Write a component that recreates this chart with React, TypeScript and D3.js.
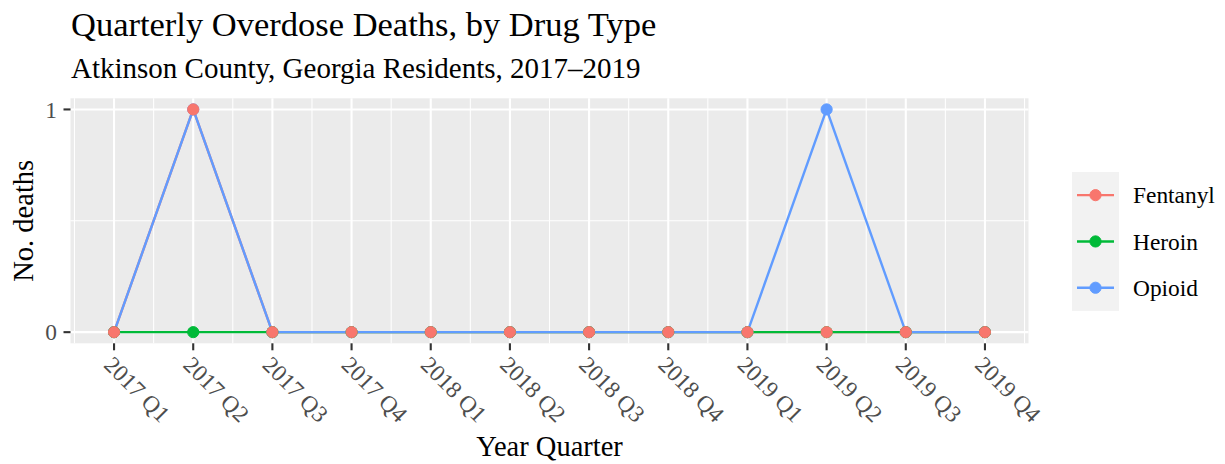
import React from "react";
import * as d3 from "d3";

const quarters = [
  "2017 Q1", "2017 Q2", "2017 Q3", "2017 Q4",
  "2018 Q1", "2018 Q2", "2018 Q3", "2018 Q4",
  "2019 Q1", "2019 Q2", "2019 Q3", "2019 Q4",
];
const fentanyl = [0, 1, 0, 0, 0, 0, 0, 0, 0, 0, 0, 0];
const heroin = [0, 0, 0, 0, 0, 0, 0, 0, 0, 0, 0, 0];
const opioid = [0, 1, 0, 0, 0, 0, 0, 0, 0, 1, 0, 0];
const seriesNames = ["Fentanyl", "Heroin", "Opioid"];
const seriesColors = ["#F8766D", "#00BA38", "#619CFF"];
const yTicks = [0, 1];
const yMinor = [0.5];

const FONT = "'Liberation Serif', 'Times New Roman', Times, serif";

export default function App() {
  const W = 1225, H = 464;
  const left = 70.5, right = 1028.5, top = 98.3, bottom = 343.3;
  const n = quarters.length;
  const x = d3.scaleLinear().domain([-0.55, n - 1 + 0.55]).range([left, right]);
  const y = d3.scaleLinear().domain([-0.05, 1.05]).range([bottom, top]);
  const series = [fentanyl, heroin, opioid];
  const line = d3.line<number>().x((_, i) => x(i)).y((d) => y(d));
  const xMinor = d3.range(-0.5, n, 1);
  const pointOrder = [2, 1, 0];

  const legendX = 1072, legendTop = 172, keyH = 46.3, keyW = 47;

  return (
    <svg width={W} height={H} style={{ display: "block", position: "absolute", left: 0, top: 0 }} fontFamily={FONT}>
      <rect x={0} y={0} width={W} height={H} fill="#FFFFFF" />
      {/* title */}
      <text x={71} y={36} fontSize={34.5} fill="#000">Quarterly Overdose Deaths, by Drug Type</text>
      <text x={71} y={78} fontSize={29} fill="#000">Atkinson County, Georgia Residents, 2017–2019</text>

      {/* panel */}
      <rect x={left} y={top} width={right - left} height={bottom - top} fill="#EBEBEB" />
      {yMinor.map((v) => (
        <line key={"ym" + v} x1={left} x2={right} y1={y(v)} y2={y(v)} stroke="#FFFFFF" strokeWidth={1.05} />
      ))}
      {xMinor.map((v) => (
        <line key={"xm" + v} x1={x(v)} x2={x(v)} y1={top} y2={bottom} stroke="#FFFFFF" strokeWidth={1.05} />
      ))}
      {yTicks.map((v) => (
        <line key={"yg" + v} x1={left} x2={right} y1={y(v)} y2={y(v)} stroke="#FFFFFF" strokeWidth={2.1} />
      ))}
      {quarters.map((q, i) => (
        <line key={"xg" + q} x1={x(i)} x2={x(i)} y1={top} y2={bottom} stroke="#FFFFFF" strokeWidth={2.1} />
      ))}

      {/* lines */}
      {series.map((s, k) => (
        <path key={"l" + k} d={line(s) || ""} fill="none" stroke={seriesColors[k]} strokeWidth={2.4} />
      ))}
      {/* points */}
      {pointOrder.map((k) =>
        series[k].map((v, i) => (
          <circle key={"p" + k + "-" + i} cx={x(i)} cy={y(v)} r={5.6} fill={seriesColors[k]} stroke={seriesColors[k]} strokeWidth={1} />
        ))
      )}

      {/* y axis */}
      {yTicks.map((v) => (
        <g key={"yt" + v}>
          <line x1={left - 7} x2={left} y1={y(v)} y2={y(v)} stroke="#333333" strokeWidth={2.1} />
          <text x={57} y={y(v)} dy="0.35em" textAnchor="end" fontSize={23.4} fill="#4D4D4D">{v}</text>
        </g>
      ))}
      {/* x axis */}
      {quarters.map((q, i) => (
        <g key={"xt" + q}>
          <line x1={x(i)} x2={x(i)} y1={bottom} y2={bottom + 7} stroke="#333333" strokeWidth={2.1} />
          <text
            x={x(i)}
            y={355}
            dy="0.68em"
            fontSize={23.4}
            fill="#4D4D4D"
            textAnchor="start"
            transform={`rotate(45, ${x(i)}, 355)`}
          >
            {q}
          </text>
        </g>
      ))}

      {/* axis titles */}
      <text x={(left + right) / 2} y={456} textAnchor="middle" fontSize={28.5} fill="#000">Year Quarter</text>
      <text x={33} y={(top + bottom) / 2} textAnchor="middle" fontSize={28.5} fill="#000" transform={`rotate(-90, 33, ${(top + bottom) / 2})`}>No. deaths</text>

      {/* legend */}
      <rect x={legendX} y={legendTop} width={keyW} height={keyH * 3} fill="#F2F2F2" />
      {seriesNames.map((name, k) => {
        const cy = legendTop + keyH * (k + 0.5);
        return (
          <g key={"lg" + name}>
            <line x1={legendX + 5} x2={legendX + keyW - 5} y1={cy} y2={cy} stroke={seriesColors[k]} strokeWidth={2.4} />
            <circle cx={legendX + keyW / 2} cy={cy} r={5.6} fill={seriesColors[k]} stroke={seriesColors[k]} strokeWidth={1} />
            <text x={1133} y={cy} dy="0.35em" fontSize={23.4} fill="#000">{name}</text>
          </g>
        );
      })}
    </svg>
  );
}
